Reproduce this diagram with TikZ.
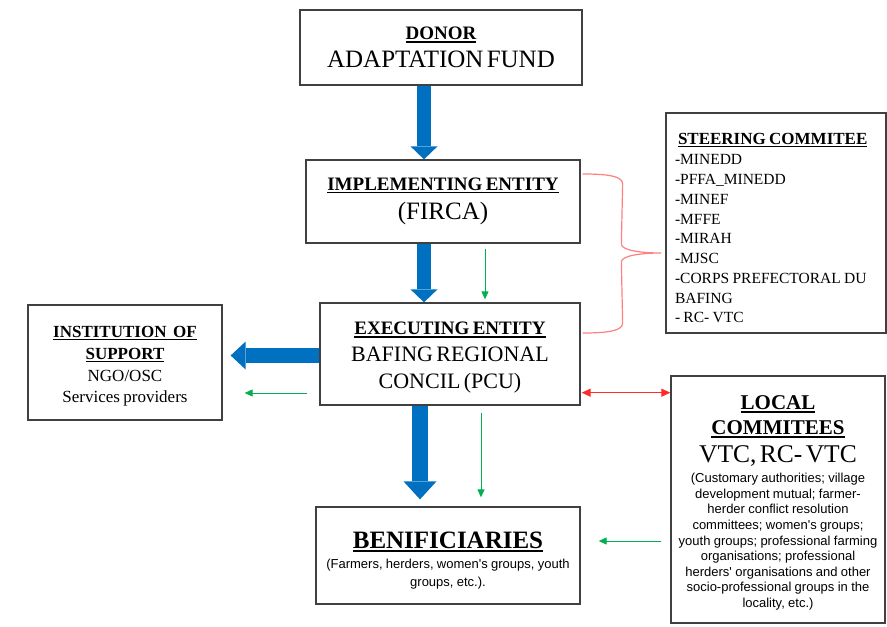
\documentclass[tikz,border=0pt]{standalone}
\usepackage{fontspec}
\setmainfont{Liberation Serif}
\newfontfamily\arialf{Liberation Sans}
\usetikzlibrary{arrows.meta,calc}
\definecolor{fblue}{HTML}{0070C0}
\definecolor{fgreen}{HTML}{00B050}
\definecolor{fred}{HTML}{FF2A2A}
\definecolor{fbrace}{HTML}{FF8080}
\definecolor{boxgray}{HTML}{404040}
\newcommand\ulx[1]{\leavevmode\setbox0\hbox{#1}\rlap{\rule[-0.15em]{\wd0}{0.075em}}\box0}
\newcommand\fs[2]{\fontsize{#1}{#2}\selectfont}
\newcommand\topstrut[1]{\rule{0pt}{#1}}
\tikzset{
  box/.style={draw=boxgray, line width=1.3pt, inner sep=0pt, align=center, fill=white},
  bigarrow/.style={draw=fblue, line width=14pt, -{Triangle[width=27pt,length=13pt,line width=0pt]}},
  thinarrow/.style={draw=fgreen, line width=0.9pt, -{Triangle[width=7pt,length=8pt]}},
  redarrow/.style={draw=fred, line width=1pt, {Triangle[width=8pt,length=9pt]}-{Triangle[width=8pt,length=9pt]}},
  bracepath/.style={draw=fbrace, line width=1.2pt}
}
\begin{document}
\begin{tikzpicture}[x=1pt,y=-1pt]
\useasboundingbox (0,0) rectangle (887,627);

\node[box, minimum width=282pt, minimum height=75pt, text width=272pt] (donor) at (441,47.5)
  {\fs{19}{19}\ulx{\textbf{DONOR}}\par\fs{25}{27.6}ADAPTATION FUND\par};

\node[box, minimum width=274pt, minimum height=83pt, text width=264pt] (impl) at (443,201.5)
  {\fs{19}{19}\ulx{\textbf{IMPLEMENTING ENTITY}}\par\fs{25}{29}(FIRCA)\par};

\node[box, minimum width=260pt, minimum height=102pt, text width=250pt] (exec) at (450,354)
  {\fs{19}{19}\topstrut{20.6pt}\ulx{\textbf{EXECUTING ENTITY}}\par\fs{22}{27}BAFING REGIONAL\par\fs{22}{27}CONCIL (PCU)\par};

\node[box, minimum width=194pt, minimum height=115pt, text width=184pt] (inst) at (125,362.5)
  {\fs{17}{21.7}\topstrut{19.3pt}\ulx{\textbf{INSTITUTION\ \ OF}}\\\ulx{\textbf{SUPPORT}}\\NGO/OSC\\Services providers\par};

\node[box, minimum width=264pt, minimum height=97pt, text width=254pt] (benef) at (448,555.5)
  {\fs{25}{25}\topstrut{26.6pt}\ulx{\textbf{BENIFICIARIES}}\par\arialf\fs{13}{20}(Farmers, herders, women's groups, youth\par\fs{13}{18}groups, etc.).\par};

\node[box, minimum width=220pt, minimum height=220pt, text width=202pt, align=left] (steer) at (776,223)
  {\fs{17}{17}\topstrut{21.3pt}\hspace*{3pt}\ulx{\textbf{STEERING COMMITEE}}\par
   \fs{15.5}{20.5}-MINEDD\par
   \fs{15.5}{19.75}-PFFA\_MINEDD\\-MINEF\\-MFFE\\-MIRAH\\-MJSC\\-CORPS PREFECTORAL DU\\BAFING\\- RC- VTC\par};

\node[box, minimum width=214pt, minimum height=247pt, text width=206pt] (local) at (778,499.5)
  {\fs{21}{25}\topstrut{20.9pt}\ulx{\textbf{LOCAL}}\\\ulx{\textbf{COMMITEES}}\par
   \fs{25.5}{28}VTC, RC- VTC\par
   \arialf\fs{13}{20}(Customary authorities; village\par
   \fs{13}{15.6}development mutual; farmer-\\herder conflict resolution\\committees; women's groups;\\youth groups; professional farming\\organisations; professional\\herders' organisations and other\\socio-professional groups in the\\locality, etc.)\par};

% big blue arrows
\draw[bigarrow] ([xshift=-17pt]donor.south) -- ([xshift=-19pt]impl.north);
\draw[bigarrow] ([xshift=-19pt]impl.south) -- ([xshift=-26pt]exec.north);
\draw[bigarrow, line width=16.6pt, -{Triangle[width=33pt,length=18pt,line width=0pt]}]
  ([xshift=-30pt]exec.south) -- ([xshift=-28pt,yshift=7pt]benef.north);
\draw[bigarrow, line width=15pt, -{Triangle[width=28pt,length=15pt,line width=0pt]}]
  ([yshift=-1.5pt]exec.west) -- ([xshift=8pt,yshift=7pt]inst.east);

% thin green arrows
\draw[thinarrow] ([xshift=42pt,yshift=-5pt]impl.south) -- ([xshift=35pt,yshift=3pt]exec.north);
\draw[thinarrow] ([xshift=-12pt,yshift=-39pt]exec.west) -- ([xshift=22pt,yshift=-30.5pt]inst.east);
\draw[thinarrow] ([xshift=31pt,yshift=-7pt]exec.south) -- ([xshift=33pt,yshift=9pt]benef.north);
\draw[thinarrow] ([xshift=-9pt,yshift=-41.5pt]local.west) -- ([xshift=18pt,yshift=14.5pt]benef.east);

% red double arrow
\draw[redarrow] ([xshift=1pt,yshift=-38.7pt]exec.east) -- ([yshift=106.8pt]local.west);

% red brace
\coordinate (b1) at ([xshift=2pt,yshift=27.5pt]impl.east);
\coordinate (b2) at ([xshift=2pt,yshift=21pt]exec.east);
\coordinate (btip) at ([xshift=-4pt,yshift=-30pt]steer.west);
\draw[bracepath] (b1) .. controls +(25,0) and +(0,-8) .. ($(b1)+(40,10)$)
  -- ($(btip)+(-40,-9)$) .. controls +(0,6) and +(-22,0) .. (btip)
  .. controls +(-22,0) and +(0,-6) .. ($(btip)+(-40,9)$)
  -- ($(b2)+(40,-10)$) .. controls +(0,8) and +(25,0) .. (b2);
\end{tikzpicture}
\end{document}
